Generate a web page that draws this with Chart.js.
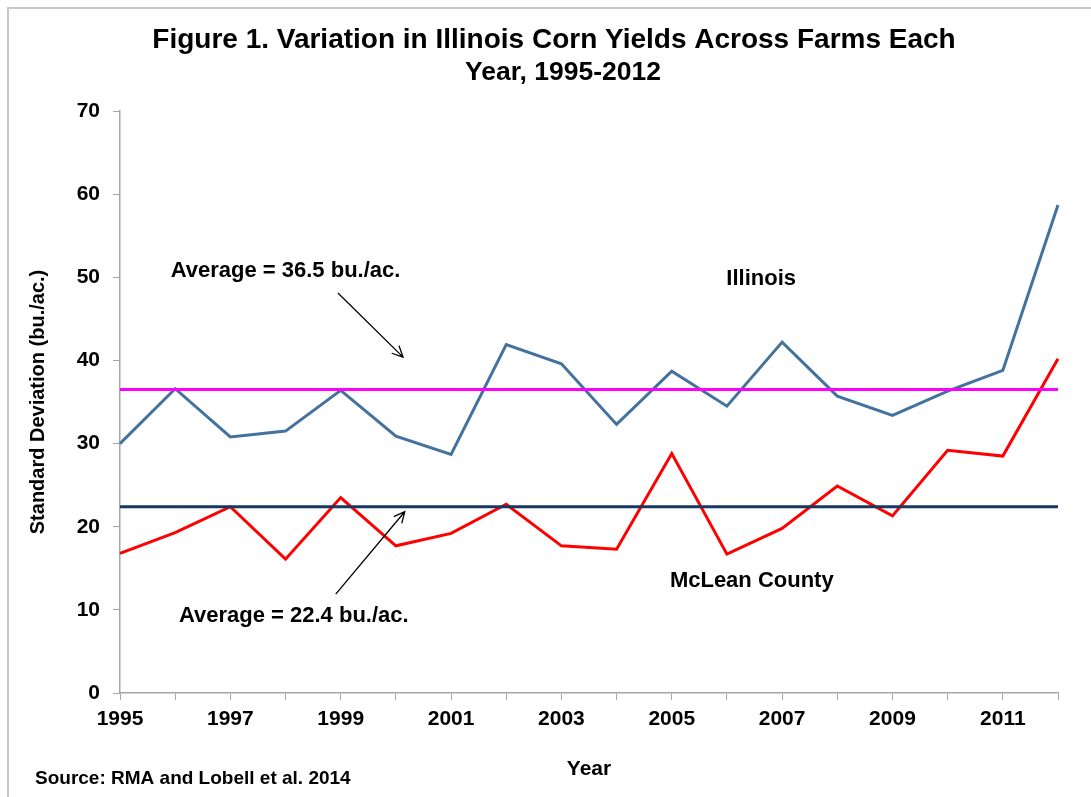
<!DOCTYPE html>
<html>
<head>
<meta charset="utf-8">
<script src="https://cdn.jsdelivr.net/npm/chart.js@4"></script>
<style>
  html, body { margin: 0; padding: 0; background: #fff; }
  #wrap { width: 1091px; height: 797px; position: relative; }
</style>
</head>
<body>
<div id="wrap"><canvas id="sdChart"></canvas></div>
<script>
// years on the x axis, labelled every other year
const years = [1995, 1996, 1997, 1998, 1999, 2000, 2001, 2002, 2003, 2004, 2005, 2006, 2007, 2008, 2009, 2010, 2011, 2012];
const labelledYears = [1995, 1997, 1999, 2001, 2003, 2005, 2007, 2009, 2011];

// standard deviation of yields (bu./ac.)
const illinois = [30.0, 36.6, 30.8, 31.5, 36.4, 30.9, 28.7, 41.9, 39.6, 32.3, 38.7, 34.5, 42.2, 35.7, 33.4, 36.3, 38.8, 58.7];
const mclean = [16.8, 19.3, 22.4, 16.1, 23.5, 17.7, 19.2, 22.7, 17.7, 17.3, 28.8, 16.7, 19.8, 24.9, 21.3, 29.2, 28.5, 40.2];

const illinoisAvg = 36.5;
const mcleanAvg = 22.4;

const yTicks = [0, 10, 20, 30, 40, 50, 60, 70];

const FONT = "'Liberation Sans', Arial, sans-serif";

// text notes in data units (year, value)
const notes = [
  { text: 'Average = 36.5 bu./ac.', x: 1998.0, y: 50.8 },
  { text: 'Illinois', x: 2006.62, y: 49.8 },
  { text: 'McLean County', x: 2006.45, y: 13.5 },
  { text: 'Average = 22.4 bu./ac.', x: 1998.15, y: 9.3 }
];
const arrows = [
  { from: [1998.95, 48.1], to: [2000.13, 40.4] },
  { from: [1998.91, 11.9], to: [2000.16, 21.8] }
];

const notesPlugin = {
  id: 'notes',
  beforeDraw(chart) {
    const ctx = chart.ctx;
    ctx.save();
    ctx.strokeStyle = '#c8c8c8';
    ctx.lineWidth = 2;
    ctx.beginPath();
    ctx.moveTo(8, 1200);
    ctx.lineTo(8, 8);
    ctx.lineTo(1200, 8);
    ctx.stroke();

    ctx.fillStyle = '#000';
    ctx.textAlign = 'center';
    ctx.textBaseline = 'middle';
    ctx.font = 'bold 28px ' + FONT;
    ctx.fillText('Figure 1. Variation in Illinois Corn Yields Across Farms Each', 554, 40);
    ctx.font = 'bold 26.5px ' + FONT;
    ctx.fillText('Year, 1995-2012', 563, 73);

    ctx.font = 'bold 19px ' + FONT;
    ctx.textAlign = 'left';
    ctx.fillText('Source: RMA and Lobell et al. 2014', 35, 779);
    ctx.restore();
  },
  afterDatasetsDraw(chart) {
    const ctx = chart.ctx;
    const xs = chart.scales.x, ys = chart.scales.y;
    const px = yr => xs.getPixelForValue(yr - years[0]);
    const py = v => ys.getPixelForValue(v);
    ctx.save();
    ctx.fillStyle = '#000';
    ctx.font = 'bold 22px ' + FONT;
    ctx.textAlign = 'center';
    ctx.textBaseline = 'middle';
    notes.forEach(n => ctx.fillText(n.text, px(n.x), py(n.y)));

    ctx.strokeStyle = '#000';
    ctx.lineWidth = 1.3;
    arrows.forEach(a => {
      const x1 = px(a.from[0]), y1 = py(a.from[1]);
      const x2 = px(a.to[0]), y2 = py(a.to[1]);
      const ang = Math.atan2(y2 - y1, x2 - x1);
      const h = 12;
      ctx.beginPath();
      ctx.moveTo(x1, y1);
      ctx.lineTo(x2, y2);
      ctx.moveTo(x2 - h * Math.cos(ang - 0.45), y2 - h * Math.sin(ang - 0.45));
      ctx.lineTo(x2, y2);
      ctx.lineTo(x2 - h * Math.cos(ang + 0.45), y2 - h * Math.sin(ang + 0.45));
      ctx.stroke();
    });
    ctx.restore();
  }
};

const ctxA = document.getElementById('sdChart');
const sdChart = new Chart(ctxA, {
  type: 'line',
  data: {
    labels: years,
    datasets: [
      {
        label: 'Illinois average',
        data: years.map(() => illinoisAvg),
        borderColor: '#ff00ff',
        borderWidth: 3,
        pointRadius: 0
      },
      {
        label: 'McLean average',
        data: years.map(() => mcleanAvg),
        borderColor: '#17375e',
        borderWidth: 3,
        pointRadius: 0
      },
      {
        label: 'Illinois',
        data: illinois,
        borderColor: '#44729f',
        borderWidth: 3,
        pointRadius: 0,
        tension: 0
      },
      {
        label: 'McLean County',
        data: mclean,
        borderColor: '#ff0000',
        borderWidth: 3,
        pointRadius: 0,
        tension: 0
      }
    ]
  },
  options: {
    responsive: true,
    maintainAspectRatio: false,
    animation: false,
    layout: { padding: { left: 0, right: 33, top: 111, bottom: 0 } },
    scales: {
      x: {
        offset: false,
        grid: { drawOnChartArea: false, drawTicks: true, tickLength: 7, color: '#a6a6a6', offset: false },
        border: { color: '#a6a6a6', width: 1.5 },
        ticks: {
          autoSkip: false,
          maxRotation: 0,
          padding: 7,
          color: '#000',
          font: { family: FONT, size: 21, weight: 'bold' },
          callback: (v, i) => labelledYears.includes(years[i]) ? String(years[i]) : ''
        },
        title: {
          display: true,
          text: 'Year',
          color: '#000',
          font: { family: FONT, size: 21, weight: 'bold' },
          padding: { top: 0, bottom: 15 }
        },
        afterFit: s => { s.height = 104; }
      },
      y: {
        min: 0,
        max: 70,
        grid: { drawOnChartArea: false, drawTicks: true, tickLength: 7, color: '#a6a6a6' },
        border: { color: '#a6a6a6', width: 1.5 },
        afterBuildTicks: s => { s.ticks = yTicks.map(v => ({ value: v })); },
        ticks: {
          padding: 13,
          color: '#000',
          font: { family: FONT, size: 21, weight: 'bold' }
        },
        title: {
          display: true,
          text: 'Standard Deviation (bu./ac.)',
          color: '#000',
          font: { family: FONT, size: 20, weight: 'bold' },
          padding: { top: 26, bottom: 0 }
        },
        afterFit: s => { s.width = 120; }
      }
    },
    plugins: {
      legend: { display: false },
      tooltip: { enabled: false },
      title: { display: false }
    }
  },
  plugins: [notesPlugin]
});
</script>
</body>
</html>
